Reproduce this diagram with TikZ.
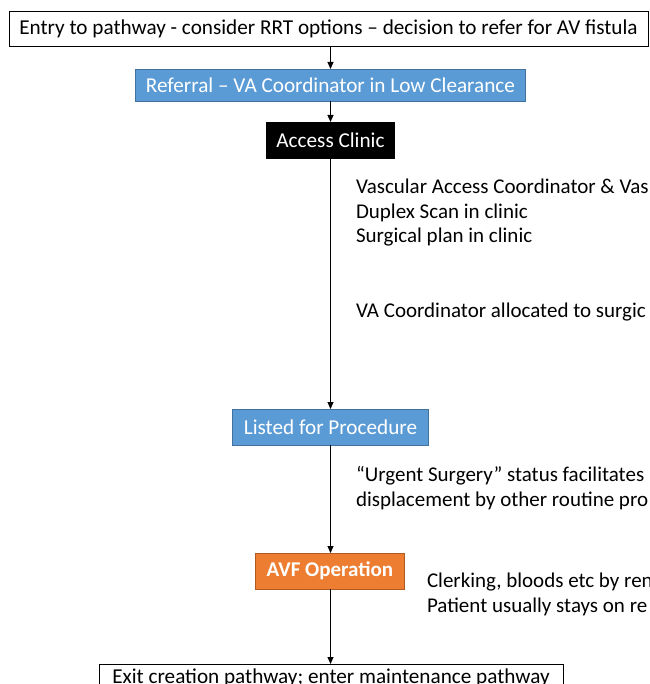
\documentclass[tikz,border=0pt]{standalone}
\usepackage{fontspec}
\setmainfont{Carlito}
\usetikzlibrary{arrows.meta}
\definecolor{stepblue}{HTML}{5B9BD5}
\definecolor{stepblueline}{HTML}{41719C}
\definecolor{steporange}{HTML}{ED7D31}
\definecolor{steporangeline}{HTML}{AE5A21}
\begin{document}
\begin{tikzpicture}[x=1pt,y=-1pt,
  every node/.style={inner sep=0pt, outer sep=0pt},
  boxfont/.style={font=\fontsize{21.2}{25}\selectfont},
  plainbox/.style={boxfont, draw=black, line width=0.9pt, fill=white, text=black},
  bluebox/.style={boxfont, draw=stepblueline, line width=0.8pt, fill=stepblue, text=white},
  blackbox/.style={boxfont, draw=black, fill=black, text=white},
  orangebox/.style={draw=steporangeline, line width=0.8pt, fill=steporange, text=white,
    font=\bfseries\fontsize{21}{25}\selectfont},
  note/.style={anchor=base west, text=black, font=\fontsize{21}{25}\selectfont},
  flow/.style={draw=black, line width=1pt, -{Triangle[length=7pt,width=6pt]}}]
\useasboundingbox (0,0) rectangle (649,684);
\fill[white] (0,0) rectangle (649,684);
\clip (0,0) rectangle (649,684);

% pathway steps
\node[plainbox, minimum width=639pt, minimum height=35pt] (entry) at (328.5,28.5)
  {Entry to pathway - consider RRT options -- decision to refer for AV fistula};
\node[bluebox, minimum width=390pt, minimum height=32pt] (referral) at (330.5,85)
  {Referral -- VA Coordinator in Low Clearance};
\node[blackbox, minimum width=128pt, minimum height=36pt] (clinic) at (330.5,140)
  {Access Clinic};
\node[bluebox, minimum width=196pt, minimum height=36pt] (listed) at (330.5,427)
  {Listed for Procedure};
\node[orangebox, minimum width=149pt, minimum height=36pt] (avf) at (330,571)
  {AVF Operation};
\node[plainbox, minimum width=464pt, minimum height=27pt] (exit) at (331,677.5)
  {Exit creation pathway; enter maintenance pathway};

% connectors
\draw[flow] (entry.south -| referral) -- (referral.north);
\draw[flow] (referral.south) -- (clinic.north);
\draw[flow] (clinic.south) -- (listed.north);
\draw[flow] (listed.south -| clinic) -- (avf.north -| clinic);
\draw[flow] (avf.south -| clinic) -- (exit.north -| clinic);

% notes beside the steps
\node[note] (n1) at (356,194) {Vascular Access Coordinator \& Vas};
\node[note] (n2) at (356,219) {Duplex Scan in clinic};
\node[note] (n3) at (356,243) {Surgical plan in clinic};
\node[note] (n4) at (356,317) {VA Coordinator allocated to surgic};
\node[note] (n5) at (356,481) {“Urgent Surgery” status facilitates};
\node[note] (n6) at (356,506) {displacement by other routine pro};
\node[note] (n7) at (427,587) {Clerking, bloods etc by ren};
\node[note] (n8) at (427,612) {Patient usually stays on re};
\end{tikzpicture}
\end{document}
